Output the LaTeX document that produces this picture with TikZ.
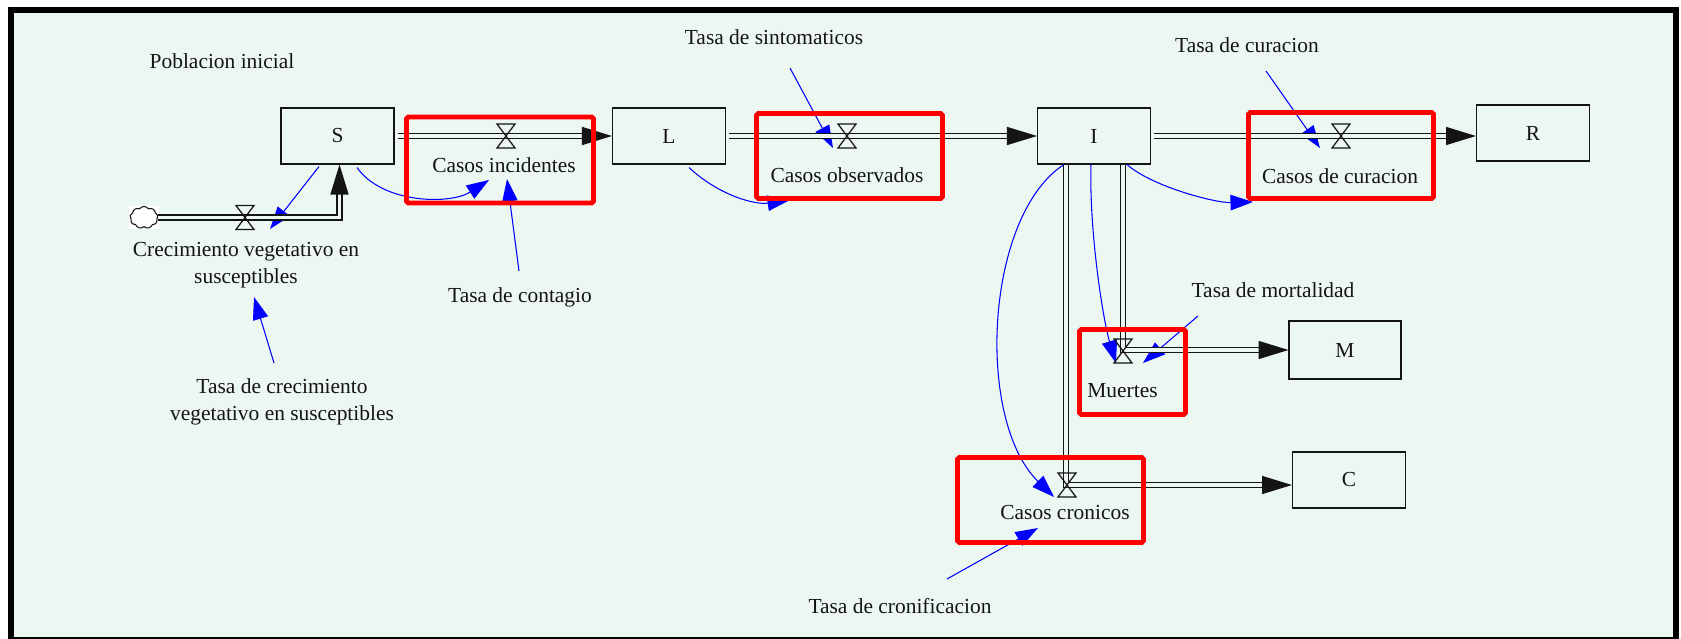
\documentclass[tikz,border=0pt]{standalone}
\usepackage{fontspec}
\setmainfont{Liberation Serif}
\usetikzlibrary{arrows.meta,calc,shapes.symbols}
\definecolor{canvas}{RGB}{237,247,241}
\definecolor{ink}{RGB}{20,20,20}
\begin{document}
\begin{tikzpicture}[x=0.02cm,y=-0.02cm,
  font=\fontsize{12.2pt}{15.3pt}\selectfont,
  stock/.style={draw=ink, line width=0.6pt, minimum width=2.26cm, minimum height=1.12cm, inner sep=0pt, text=ink},
  hl/.style={draw=red, line width=2.8pt, rounded corners=1pt, inner sep=0pt},
  lbl/.style={text=ink, inner sep=0pt, anchor=base},
  mlbl/.style={text=ink, inner sep=0pt, align=center},
  pipe/.style={draw=ink, line width=0.8pt, double=canvas, double distance=2.2pt,
    -{Triangle[length=0.6cm,width=0.36cm]}},
  valve/.style={draw=ink, line width=0.7pt},
  link/.style={draw=blue, line width=0.6pt, -{Triangle[length=0.45cm,width=0.31cm]}},
]
\useasboundingbox (0,0) rectangle (1681,639);
% canvas and frame
\fill[white] (0,0) rectangle (1681,639);
\fill[canvas] (11,10) rectangle (1676,640);
\draw[black, line width=0.11cm] (11,10) rectangle (1676,640);

% stocks
\node[stock] (S) at (337.5,136) {S};
\node[stock] (L) at (669,136) {L};
\node[stock] (I) at (1094,136) {I};
\node[stock] (R) at (1533,133) {R};
\node[stock, minimum height=1.16cm, minimum width=2.24cm] (M) at (1345,350) {M};
\node[stock] (C) at (1349,480) {C};

% source cloud
\node[fill=white, minimum width=0.6cm, minimum height=0.48cm, inner sep=0pt] (srcbg) at (144,217.5) {};
\node[cloud, cloud puffs=9, cloud puff arc=110, aspect=1.25, draw=ink, line width=0.6pt,
      minimum width=0.56cm, minimum height=0.44cm, inner sep=0pt] (src) at (144,217.5) {};

% flow and auxiliary labels
\node[lbl] (fInc) at (504,172) {Casos incidentes};
\node[lbl] (fObs) at (847,182) {Casos observados};
\node[lbl] (fCur) at (1340,183) {Casos de curacion};
\node[lbl] (fMue) at (1122.5,397) {Muertes};
\node[lbl] (fCro) at (1065,519) {Casos cronicos};
\node[mlbl] (fCre) at (246,265) {Crecimiento vegetativo en\\susceptibles};
\node[lbl] (tPob) at (222,68) {Poblacion inicial};
\node[lbl] (tCont) at (520,302) {Tasa de contagio};
\node[lbl] (tSin) at (774,44) {Tasa de sintomaticos};
\node[lbl] (tCur) at (1247,52) {Tasa de curacion};
\node[lbl] (tMor) at (1273,297) {Tasa de mortalidad};
\node[lbl] (tCron) at (900,613) {Tasa de cronificacion};
\node[mlbl] (tCre) at (282,401.5) {Tasa de crecimiento\\vegetativo en susceptibles};

% information links
\draw[link] ($(S.south)+(-18.5,2)$) -- ($(fCre.center)+(24,-36)$);
\draw[link] ($(S.south)+(19.5,3)$) .. controls +(25,36) and +(-39,25) .. ($(fInc.base)+(-15,8)$);
\draw[link] ($(tCont.base)+(-1,-31)$) -- ($(fInc.base)+(3,7)$);
\draw[link] ($(tCre.center)+(-8,-38.5)$) -- ($(fCre.center)+(8,32)$);
\draw[link] ($(L.south)+(20,3)$) .. controls +(30,28) and +(-35,5) .. ($(fObs.base)+(-57,18)$);
\draw[link] ($(tSin.base)+(16,24)$) -- ($(fObs.base)+(-14,-34)$);
\draw[link] ($(I.south)+(33,0)$) .. controls +(25,22) and +(-38,1) .. ($(fCur.base)+(-87,19)$);
\draw[link] ($(tCur.base)+(19,19)$) -- ($(fCur.base)+(-20,-35)$);
\draw[link] ($(I.south)+(-3,0)$) .. controls +(-2,66) and +(-13,-43) .. ($(fMue.base)+(-6.5,-34)$);
\draw[link] ($(tMor.base)+(-75,19)$) -- ($(fMue.base)+(20.5,-34)$);
\draw[link] ($(I.south)+(-30,0)$) .. controls +(-79,51) and +(-79,-77) .. ($(fCro.base)+(-11,-22)$);
\draw[link] ($(tCron.base)+(47,-34)$) -- ($(fCro.base)+(-27,9)$);

% material flows
\draw[pipe] ($(S.east)+(3,0)$) -- (L.west);
\draw[pipe] ($(L.east)+(3,0)$) -- (I.west);
\draw[pipe] ($(I.east)+(3,0)$) -- ($(R.west)+(0,3)$);
\draw[pipe] ($(I.south)+(29,0)$) |- (M.west);
\draw[pipe] ($(I.south)+(-28,0)$) |- ($(C.west)+(0,5)$);
\draw[pipe] (src.east) -| ($(S.south)+(2,0)$);

% valves
\foreach \p in {(506,136),(847,136),(1341,136),(1123,351),(1067,485),(245,217.5)}
  \draw[valve] \p +(-9,-12) -- +(9,-12) -- +(-9,12) -- +(9,12) -- cycle;

% highlighted flows
\node[hl, minimum width=3.74cm, minimum height=1.72cm] (hInc) at (500,160) {};
\node[hl, minimum width=3.72cm, minimum height=1.70cm] (hObs) at (849.5,156) {};
\node[hl, minimum width=3.70cm, minimum height=1.72cm] (hCur) at (1341,155.5) {};
\node[hl, minimum width=2.12cm, minimum height=1.70cm] (hMue) at (1132.5,372) {};
\node[hl, minimum width=3.72cm, minimum height=1.70cm] (hCro) at (1050.5,500) {};
\end{tikzpicture}
\end{document}
